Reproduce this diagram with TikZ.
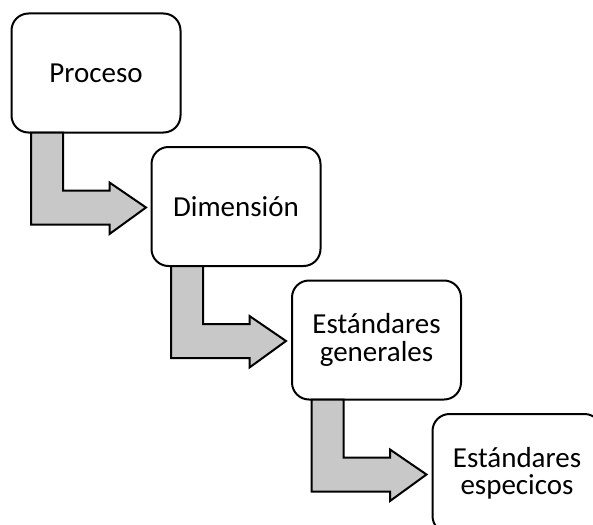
\documentclass[tikz,border=0pt]{standalone}
\usepackage{fontspec}
\setmainfont{Carlito}
\definecolor{arrowgray}{HTML}{C8C8C8}
\begin{document}
\begin{tikzpicture}[x=1pt,y=-1pt,
  stepbox/.style={draw, line width=2pt, rounded corners=17pt, fill=white,
    minimum width=169pt, minimum height=119pt, outer sep=0pt, inner sep=0pt,
    align=center, font=\fontsize{29}{27.5}\selectfont, anchor=north west},
  blockarrow/.style={draw, line width=2pt, fill=arrowgray, line join=miter}]
\clip (0,0) rectangle (593,524);
\fill[white] (0,0) rectangle (593,524);
\node[stepbox] (b1) at (11.5,13.5) {Proceso};
\node[stepbox] (b2) at (151.5,147) {Dimensión};
\node[stepbox] (b3) at (292,280.5) {Estándares\\generales};
\node[stepbox] (b4) at (432.5,414) {Estándares\\especicos};
\foreach \b in {b1,b2,b3}{
  \draw[blockarrow, shift={(\b.south west)}]
    (19.5,0) -- (51.5,0) -- (51.5,58) -- (98,58) -- (98,50) -- (134.5,75)
    -- (98,101.5) -- (98,92) -- (19.5,92) -- cycle;
}
\end{tikzpicture}
\end{document}
